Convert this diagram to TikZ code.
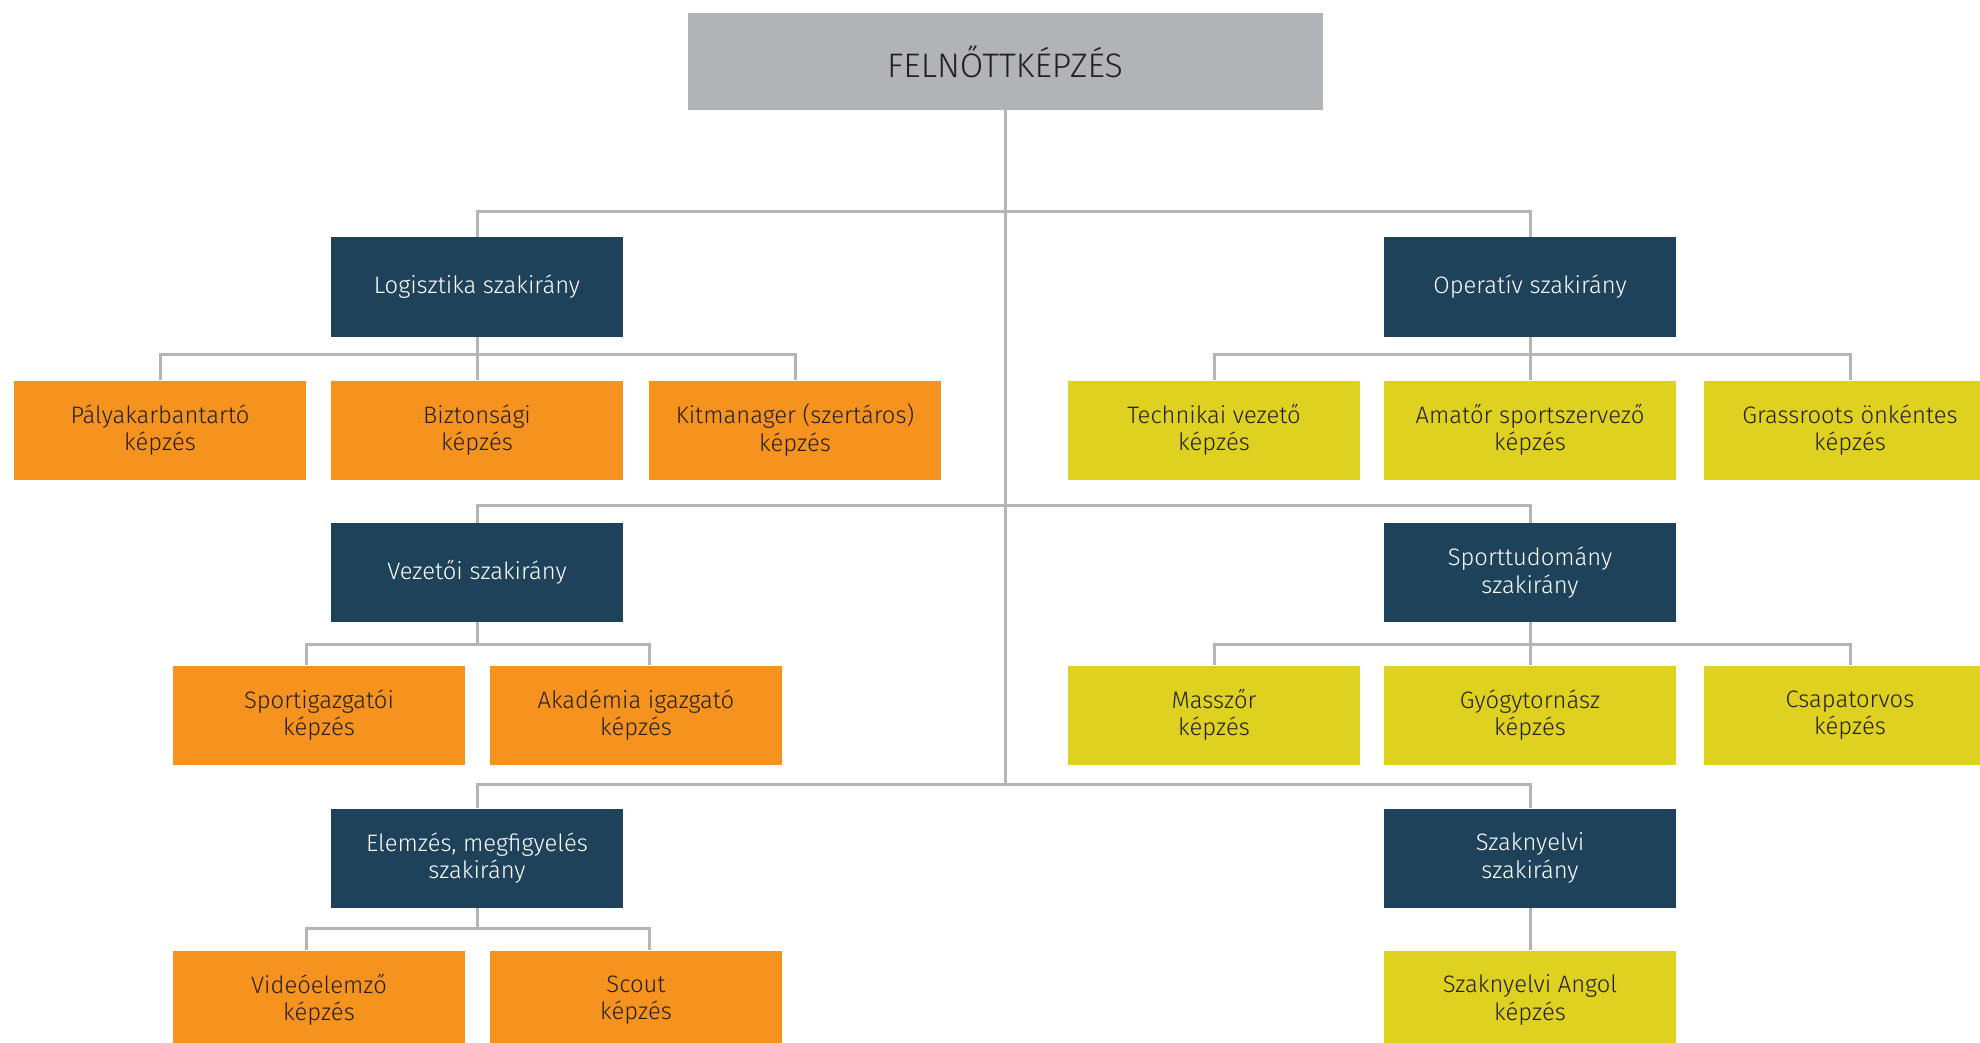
\documentclass[tikz,border=0pt]{standalone}
\usepackage{fontspec}
\setmainfont{Fira Sans Light}
\definecolor{topgray}{HTML}{B1B3B6}
\definecolor{linegray}{HTML}{B3B5B8}
\definecolor{darkblue}{HTML}{1D4259}
\definecolor{orangec}{HTML}{F6931F}
\definecolor{yellowc}{HTML}{DFD11F}
\definecolor{textdark}{HTML}{231F20}
\begin{document}
\begin{tikzpicture}[x=0.5pt,y=-0.5pt,
  conn/.style={draw=linegray,line width=1.5pt},
  box/.style={minimum width=146pt,minimum height=49.5pt,inner sep=0pt,align=center,
    font=\fontsize{11.9}{13.75}\selectfont},
  topbox/.style={minimum width=317.5pt,minimum height=48.5pt,inner sep=0pt,fill=topgray,
    text=textdark,font=\fontsize{17}{19}\selectfont},
  darkbox/.style={box,fill=darkblue,text=white},
  orangebox/.style={box,fill=orangec,text=textdark},
  yellowbox/.style={box,fill=yellowc,text=textdark}]
\useasboundingbox (0,0) rectangle (1980,1043);
\clip (0,0) rectangle (1980,1043);
\fill[white] (0,0) rectangle (1980,1043);

% root
\node[topbox] (root) at (1005,61.5) {FELNŐTTKÉPZÉS};

% level 1
\node[darkbox] (log) at (477,287) {Logisztika szakirány};
\node[darkbox] (op) at (1530,287) {Operatív szakirány};
\node[orangebox] (l1) at (160,430) {Pályakarbantartó\\képzés};
\node[orangebox] (l2) at (477,430) {Biztonsági\\képzés};
\node[orangebox] (l3) at (795,430) {Kitmanager (szertáros)\\képzés};
\node[yellowbox] (o1) at (1214,430) {Technikai vezető\\képzés};
\node[yellowbox] (o2) at (1530,430) {Amatőr sportszervező\\képzés};
\node[yellowbox] (o3) at (1850,430) {Grassroots önkéntes\\képzés};

% level 2
\node[darkbox] (vez) at (477,572.5) {Vezetői szakirány};
\node[darkbox] (spt) at (1530,572.5) {Sporttudomány\\szakirány};
\node[orangebox] (v1) at (319,715) {Sportigazgatói\\képzés};
\node[orangebox] (v2) at (636,715) {Akadémia igazgató\\képzés};
\node[yellowbox] (s1) at (1214,715) {Masszőr\\képzés};
\node[yellowbox] (s2) at (1530,715) {Gyógytornász\\képzés};
\node[yellowbox] (s3) at (1850,715) {Csapatorvos\\képzés};

% level 3
\node[darkbox] (elem) at (477,858) {Elemzés, megfigyelés\\szakirány};
\node[darkbox] (szak) at (1530,858) {Szaknyelvi\\szakirány};
\node[orangebox] (e1) at (319,1000) {Videóelemző\\képzés};
\node[orangebox] (e2) at (636,1000) {Scout\\képzés};
\node[yellowbox] (angol) at (1530,1000) {Szaknyelvi Angol\\képzés};

% bus coordinates
\coordinate (h1) at (1005,212);
\coordinate (h2) at (1005,505);
\coordinate (h3) at (1005,784);
\coordinate (b1) at (477,354);
\coordinate (b2) at (1530,354);
\coordinate (b3l) at (306,644);
\coordinate (b3r) at (649,644);
\coordinate (b4) at (1530,644);
\coordinate (b5l) at (306,928);
\coordinate (b5r) at (649,928);

% trunk and main buses
\draw[conn] (root.south) -- (h3);
\draw[conn] (log.north) |- (h1) -| (op.north);
\draw[conn] (vez.north) |- (h2) -| (spt.north);
\draw[conn] (elem.north) |- (h3) -| (szak.north);

% logistics
\draw[conn] (log.south) -- (l2.north);
\draw[conn] (l1.north) |- (b1) -| (l3.north);
% operative
\draw[conn] (op.south) -- (o2.north);
\draw[conn] (o1.north) |- (b2) -| (o3.north);
% leaders
\draw[conn] (vez.south) -- (vez.south |- b3l);
\draw[conn] (b3l |- v1.north) -- (b3l) -- (b3r) -- (b3r |- v2.north);
% sport science
\draw[conn] (spt.south) -- (s2.north);
\draw[conn] (s1.north) |- (b4) -| (s3.north);
% analysis
\draw[conn] (elem.south) -- (elem.south |- b5l);
\draw[conn] (b5l |- e1.north) -- (b5l) -- (b5r) -- (b5r |- e2.north);
% language
\draw[conn] (szak.south) -- (angol.north);
\end{tikzpicture}
\end{document}
